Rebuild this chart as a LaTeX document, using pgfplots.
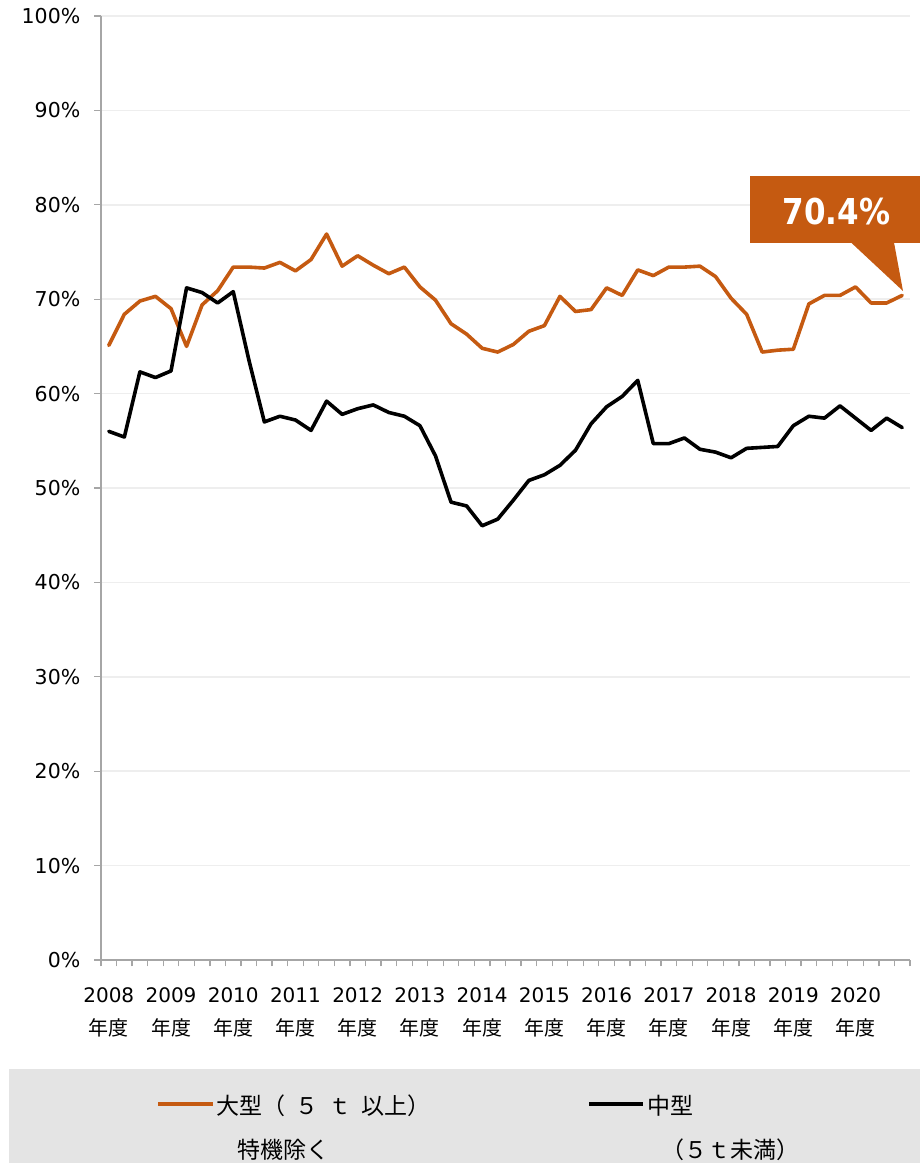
\documentclass[border=0pt]{standalone}
\usepackage{fontspec}
\setmainfont{DejaVu Sans}
\newfontfamily\jp{Noto Sans CJK JP}
\usepackage{pgfplots}
\pgfplotsset{compat=1.18}
\definecolor{org}{HTML}{C55A11}
\definecolor{axisgray}{HTML}{A6A6A6}
\definecolor{gridgray}{HTML}{EEEEEE}
\definecolor{leggray}{HTML}{E4E4E4}
\begin{document}
\begin{tikzpicture}[x=1pt,y=1pt]
\useasboundingbox (0,0) rectangle (920,1163);
\begin{axis}[
  at={(101pt,203pt)}, anchor=south west,
  scale only axis, width=809pt, height=944pt,
  xmin=-0.5, xmax=51.5, ymin=0, ymax=100,
  axis x line*=bottom, axis y line*=left,
  axis line style={axisgray, line width=1.5pt, -},
  xtick={-0.5,0.5,...,51.5}, xticklabels={},
  extra x ticks={0,4,...,48},
  extra x tick labels={{2008\\{\jp 年度}},{2009\\{\jp 年度}},{2010\\{\jp 年度}},{2011\\{\jp 年度}},{2012\\{\jp 年度}},{2013\\{\jp 年度}},{2014\\{\jp 年度}},{2015\\{\jp 年度}},{2016\\{\jp 年度}},{2017\\{\jp 年度}},{2018\\{\jp 年度}},{2019\\{\jp 年度}},{2020\\{\jp 年度}}},
  extra x tick style={major tick length=0pt, tick style={draw=none},
     xticklabel style={align=center, anchor=north, inner sep=0pt, yshift=-27pt,
       font=\fontsize{20pt}{33pt}\selectfont}},
  ytick={0,10,...,100},
  yticklabels={0\%,10\%,20\%,30\%,40\%,50\%,60\%,70\%,80\%,90\%,100\%},
  yticklabel style={anchor=east, inner sep=0pt, xshift=-14pt, font=\fontsize{20.5pt}{24pt}\selectfont},
  tick align=outside, major tick length=6.5pt,
  tick style={axisgray, line width=1.3pt},
  ymajorgrids, grid style={gridgray, line width=1.5pt},
  clip=false,
]
\addplot[org, line width=3.6pt, line join=round, line cap=round] coordinates {
(0,65.1)(1,68.4)(2,69.8)(3,70.3)(4,69.0)(5,65.0)(6,69.4)(7,70.9)(8,73.4)(9,73.4)
(10,73.3)(11,73.9)(12,73.0)(13,74.2)(14,76.9)(15,73.5)(16,74.6)(17,73.6)(18,72.7)(19,73.4)
(20,71.3)(21,69.9)(22,67.4)(23,66.3)(24,64.8)(25,64.4)(26,65.2)(27,66.6)(28,67.2)(29,70.3)
(30,68.7)(31,68.9)(32,71.2)(33,70.4)(34,73.1)(35,72.5)(36,73.4)(37,73.4)(38,73.5)(39,72.4)
(40,70.1)(41,68.4)(42,64.4)(43,64.6)(44,64.7)(45,69.5)(46,70.4)(47,70.4)(48,71.3)(49,69.6)
(50,69.6)(51,70.4)};
\addplot[black, line width=3.6pt, line join=round, line cap=round] coordinates {
(0,56.0)(1,55.4)(2,62.3)(3,61.7)(4,62.4)(5,71.2)(6,70.7)(7,69.6)(8,70.8)(9,63.6)
(10,57.0)(11,57.6)(12,57.2)(13,56.1)(14,59.2)(15,57.8)(16,58.4)(17,58.8)(18,58.0)(19,57.6)
(20,56.6)(21,53.4)(22,48.5)(23,48.1)(24,46.0)(25,46.7)(26,48.7)(27,50.8)(28,51.4)(29,52.4)
(30,54.0)(31,56.8)(32,58.6)(33,59.7)(34,61.4)(35,54.7)(36,54.7)(37,55.3)(38,54.1)(39,53.8)
(40,53.2)(41,54.2)(42,54.3)(43,54.4)(44,56.6)(45,57.6)(46,57.4)(47,58.7)(48,57.4)(49,56.1)
(50,57.4)(51,56.4)};
\end{axis}
% callout
\fill[org] (750,920) rectangle (925,987);
\fill[org] (851,920.5) -- (894,920.5) -- (903,872) -- cycle;
\node[anchor=base, text=white, inner sep=0pt, yscale=1.15, font=\bfseries\fontsize{31pt}{34pt}\selectfont] at (836.5,938) {70.4\%};
% legend
\fill[leggray] (9,0) rectangle (925,93.7);
\draw[org, line width=4pt] (158,59) -- (213,59);
\draw[black, line width=4pt] (589,59) -- (643,59);
\node[anchor=base west, inner sep=0pt, font=\jp\fontsize{23pt}{26pt}\selectfont] at (216,48.5) {大型（\hspace{10pt}５\hspace{10pt}ｔ\hspace{10pt}以上）};
\node[anchor=base west, inner sep=0pt, font=\jp\fontsize{23pt}{26pt}\selectfont] at (237,5) {特機除く};
\node[anchor=base west, inner sep=0pt, font=\jp\fontsize{23pt}{26pt}\selectfont] at (647,48.5) {中型};
\node[anchor=base west, inner sep=0pt, font=\jp\fontsize{23pt}{26pt}\selectfont] at (661,5) {（５ｔ未満）};
\end{tikzpicture}
\end{document}
